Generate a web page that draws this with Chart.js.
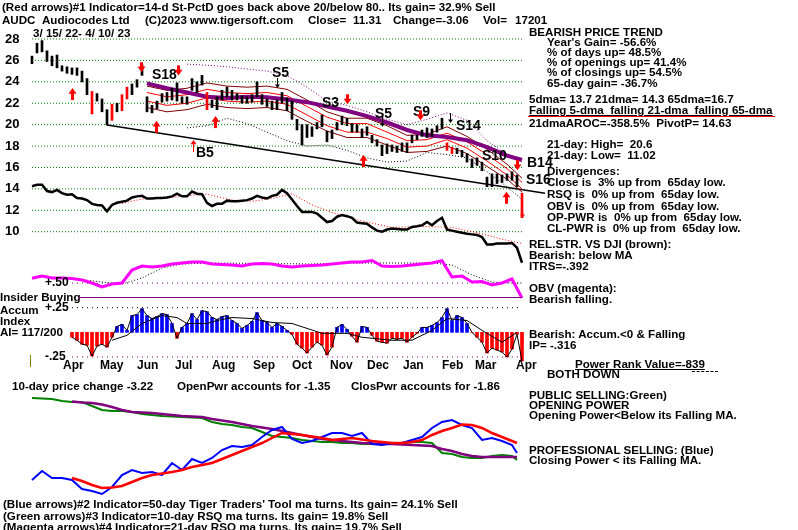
<!DOCTYPE html>
<html>
<head>
<meta charset="utf-8">
<title>AUDC Audiocodes - Tiger chart</title>
<style>
  body { margin: 0; background: #fff; }
  #wrap { position: relative; width: 798px; height: 530px; overflow: hidden; }
  #chart { position: absolute; left: 0; top: 0; }
  #notes { position: absolute; left: 0; top: 0; width: 798px; height: 530px; pointer-events: none; }
  .t { position: absolute; white-space: pre; font: bold 11.6px/12px "Liberation Sans", Arial, sans-serif; color: #000; }
  .u { text-decoration: underline; }
  .rule { position: absolute; height: 0; }
</style>
<script src="https://cdn.jsdelivr.net/npm/chart.js"></script>
</head>
<body>
<div id="wrap">
  <canvas id="chart" width="798" height="530"></canvas>
  <div id="notes"></div>
</div>
<script>
// samples, one every ~2.75 sessions from 3/15/22 to 4/10/23
const priceHigh = [26.4,27.6,27.85,26.9,26.4,26.5,25.5,25.4,25.3,25.3,
  25.0,24.3,23.1,22.9,22.4,21.4,21.9,22.0,22.8,23.5,
  23.8,24.2,25.6,22.6,21.8,22.2,22.9,23.0,23.4,23.9,
  22.6,22.6,24.3,24.0,24.6,23.0,22.3,22.6,23.2,23.5,
  23.2,22.9,22.7,22.6,22.8,24.0,22.8,22.4,22.2,22.3,
  23.0,22.5,22.2,20.5,20.0,20.0,19.8,20.2,20.9,19.4,
  19.5,20.2,20.8,20.6,20.1,20.0,19.6,19.8,19.0,18.6,
  18.1,18.2,18.1,18.0,18.3,18.3,19.0,19.0,19.5,19.7,
  19.6,19.9,20.6,18.3,17.9,17.8,17.6,17.3,16.8,16.9,
  16.5,15.1,15.4,15.4,15.3,15.4,15.6,15.3,13.6];
const priceLow = [25.7,26.7,26.8,25.9,25.5,25.3,25.0,24.8,24.7,24.6,
  24.0,22.8,21.0,22.2,21.2,19.96,20.4,21.2,21.3,22.4,
  22.8,23.5,24.6,21.2,21.1,21.5,22.1,22.2,22.3,22.2,
  22.0,21.9,23.2,23.0,23.7,21.4,21.6,21.4,22.3,22.6,
  22.3,22.3,22.0,22.0,22.1,22.6,21.9,21.7,21.4,21.4,
  22.0,21.3,20.5,19.5,18.1,18.8,18.9,19.6,19.8,18.4,
  18.7,19.5,20.0,19.9,19.3,19.3,18.8,19.0,18.3,18.0,
  17.1,17.3,17.5,17.4,17.5,17.4,18.3,18.6,18.9,18.8,
  18.9,19.3,19.6,17.6,17.3,17.3,17.0,16.5,16.0,16.2,
  15.7,14.2,14.2,14.5,14.6,14.8,14.8,14.2,11.31];
const redBars = [12, 16, 18, 19, 35, 83, 84, 98];

// relative strength vs DJI, read on the price grid
const relStr = [14.25,14.38,14.38,13.8,13.7,13.9,13.6,13.45,13.5,13.15,
  13.1,12.95,12.6,12.5,12.45,11.9,12.5,12.7,12.8,12.9,
  13.2,13.3,13.35,13.1,13.1,13.15,13.15,13.2,13.3,13.55,
  13.3,13.3,13.75,13.55,13.5,12.7,12.4,12.6,12.6,12.9,
  12.85,12.85,12.9,12.95,13.1,13.35,13.2,13.1,13.35,13.45,
  13.9,13.6,13.0,12.4,11.85,11.85,11.85,11.7,11.3,10.9,
  11.0,11.4,11.55,11.45,11.3,10.85,10.8,10.75,10.4,10.1,
  10.0,10.2,10.3,10.25,10.2,10.2,10.45,10.5,10.6,10.9,
  10.6,11.0,11.3,10.2,10.1,10.0,9.9,9.8,9.75,9.7,
  9.5,8.8,8.8,8.9,8.9,8.9,8.95,8.5,7.1];
const relStrMaDay = [18,22,28,32,35,40,44,48,52,56,60,66,72,78,84,90,94,98];
const relStrMa = [12.65,13.05,13.2,13.4,13.5,12.95,12.85,13.1,13.55,12.5,11.8,11.0,10.4,10.5,10.4,9.8,9.3,8.9];

// 21-dma bands, 65-dma and envelopes
const bandDay = [23,27,31,35,39,43,47,51,55,59,63,67,71,75,79,83,87,91,95,98];
const ma65    = [23.86,23.4,23.0,22.6,22.5,22.6,22.55,22.35,22.1,21.7,21.3,20.8,20.2,19.5,19.0,18.85,18.55,17.9,17.1,16.7];
const brownUp = [23.6,23.2,23.4,23.9,23.6,23.5,23.6,23.3,22.3,21.2,20.6,20.6,19.9,19.0,19.1,19.8,18.9,17.7,16.3,15.0];
const redUp   = [23.0,22.6,22.8,23.3,23.0,22.9,23.0,22.7,21.7,20.7,20.1,20.1,19.3,18.5,18.6,19.2,18.4,17.2,15.9,14.6];
const redLo   = [22.2,21.8,22.0,22.5,22.2,22.1,22.2,21.9,20.9,19.9,19.3,19.3,18.7,17.9,18.0,18.6,17.8,16.6,15.3,14.0];
const brownLo = [21.6,21.2,21.4,21.9,21.6,21.5,21.6,21.3,20.3,19.4,18.8,18.8,18.1,17.4,17.5,18.0,17.3,16.1,14.9,13.7];
const envUp   = [null,null,25.65,25.55,25.4,25.2,25.0,24.6,23.5,22.2,21.8,21.2,20.5,20.0,20.5,21.1,20.4,18.5,17.2,16.5];
const envLo   = [null,null,19.7,19.9,20.6,20.1,19.3,18.5,18.0,18.1,17.6,16.9,16.5,16.6,17.4,17.2,16.9,15.6,14.2,13.0];
const trendDay = [15, 102.6];
const trendVal = [19.96, 13.6];

// OBV (chart units)
const obvDay = [0,2,4,6,8,10,12,14,16,18,20,22,24,26,28,30,32,34,36,38,40,42,44,46,48,
  50,52,54,56,58,60,62,64,66,68,70,72,74,76,78,80,82,84,86,88,90,92,94,96,98];
const obv = [21.7,24,22,22,21.5,20,17,13,16,17,30,34,33,34,36,37,38,38,36,35.5,35,34,36,36.5,36,
  34,33,34,34.5,35,36,37,38,38,39.5,34,33.5,34,35,36,37,39.3,23,24,18,18.5,15,17,21,2];
const obvMaDay = [8,14,18,22,26,30,36,46,56,66,72,80,84,88,92,96,98];
const obvMa = [21.5,18,16,22,32,36,37,36.5,36,37,37,37,35,25,18,17,17];

// accumulation index
const accum = [null,null,null,null,null,null,null,null,-0.05,-0.08,
  -0.12,-0.13,-0.24,-0.14,-0.12,-0.15,-0.05,0.06,0.08,0.02,
  0.17,0.18,0.24,0.17,0.14,0.16,0.19,0.18,0.09,-0.06,
  0.05,0.09,0.19,0.13,0.22,0.21,0.15,0.13,0.16,0.17,
  0.12,0.09,0.04,0.07,0.11,0.2,0.12,0.1,0.05,0.09,
  0.06,0.02,-0.02,-0.12,-0.16,-0.21,-0.15,-0.1,-0.13,-0.23,
  -0.15,0.05,0.08,0.03,-0.04,-0.1,0.06,0.05,-0.03,-0.09,
  -0.1,-0.11,-0.06,-0.07,-0.06,-0.1,-0.05,-0.01,0.05,0.05,
  0.07,0.1,0.15,0.24,0.12,0.17,0.15,0.09,0.0,-0.05,
  -0.1,-0.21,-0.16,-0.18,-0.2,-0.25,-0.17,-0.02,-0.29];
const accumMaDay = [16,19,22,26,29,31,35,37,40,44,48,52,58,63,66,72,76,80,83,87,90,94,97];
const accumMa = [-0.08,-0.03,0.09,0.17,0.15,0.09,0.09,0.12,0.15,0.14,0.1,0.09,-0.01,-0.01,-0.05,-0.08,-0.08,0.02,0.14,0.12,0.02,-0.1,0.0];

// opening / closing power (chart units)
const pwrDay = [0,2,4,6,8,10,12,14,16,18,20,22,24,26,28,30,32,34,36,38,40,42,44,46,48,
  50,52,54,56,58,60,62,64,66,68,70,72,74,76,78,80,82,84,86,88,90,92,94,96,97];
const openPwr = [102,101.5,101,99,98,98,94,90,89,89,88,86,85,84,83.5,83,82.5,82,78,76,75,73,72,68,64,
  63,62,60,59,58,58,57,57,56,56,56,57,57,58,58,57,47,46,43,42,42,44,45,44,40];
const openPwrMa = [null,null,null,null,98.5,97.5,97,95.5,93,90,88,87.5,87,86,85,84,83.5,83,81,79.5,78,76,74,72.5,71,
  69,67,65,63,61,60,59,58,57,56.5,56,56,55.5,55,54.5,54,51,49,46,44,43,43,43,43,43];
const closePwr = [20,29,22,22,20,11,9,6,13,25,30,27,28,25,37,30,41,37,42,50,54,53,55,63,70,
  73,61,57,59,63,67,67,64,67,56,55,57,57,60,63,72,78,80,75,72,60,62,59,55,47];
const closePwrMa = [null,null,null,null,22,19,15,12,12.5,14,18,22,25,26.5,28,30,33,35,37,41,45,49,53,57,62,
  67,66,65,63.5,62,60,61,62,60.5,59,58,57,57,58,60,65,69,72,75.5,75,72,67,63,59,57];

// axis labels and signals
const priceTicks = [28,26,24,22,20,18,16,14,12,10];
const accumTicks = [0.5, 0.25, -0.25];
const months = ['Apr','May','Jun','Jul','Aug','Sep','Oct','Nov','Dec','Jan','Feb','Mar','Apr'];
const monthDay = [6.2,13.6,21,28.6,36,44.2,52,59.6,67,74.2,82,88.6,96.8];
const signalText = ['S18','S5','S3','S5','S9','S14','S10','B5','B14','S16'];
const signalDay  = [24,48,58,68.6,76.2,84.8,90,32.8,99,98.8];
const signalAt   = [24.26,24.45,21.64,20.62,20.8,19.5,16.7,16.97,16.04,14.5];
const buyArrows  = [[8,23.42],[24.8,20.36],[36.6,20.8],[66.2,17.16],[94.8,13.73]];
const sellArrows = [[21.8,24.9],[29.2,24.6],[63,21.9],[77.6,20.4],[97,15.75]];
const lastSell   = [[98,11.27]];
const b5Arrow    = [[32.2,18.56]];
const labelArrows = [[49,23.42],[70,19.8],[83.6,20.15]];

const W = 798, H = 530;
const FONT = '"Liberation Sans", Arial, sans-serif';

// min/max so that value v1 lands on pixel p1 and v2 on p2 across [0, size]
function span(v1, p1, v2, p2, size) {
  const k = (v2 - v1) / (p2 - p1);
  const a = v1 - k * p1, b = v1 + k * (size - p1);
  return { min: Math.min(a, b), max: Math.max(a, b) };
}
function pts(xs, ys) { return xs.map((x, k) => ({ x: x, y: ys[k] })); }

const days = priceHigh.map((_, i) => i);
const lastDay = days[days.length - 1];

const xr = span(0, 32, lastDay, 522, W);
const pr = span(28, 39, 10, 231.7, H);
const ar = span(0.25, 307.7, -0.25, 357, H);
const orr = span(0, 300, 40, 260, H);
const wr = span(0, 500, 100, 400, H);

function line(data, yAxisID, color, width, dash) {
  return { type: 'line', data: data, yAxisID: yAxisID, borderColor: color, borderWidth: width,
    borderDash: dash || [], pointRadius: 0, fill: false, tension: 0, spanGaps: false };
}

const datasets = [
  { type: 'bar', yAxisID: 'yP', data: days.map(i => ({ x: i, y: [priceLow[i], priceHigh[i]] })),
    backgroundColor: c => redBars.includes(c.dataIndex) ? '#ff0000' : '#000000',
    barThickness: 2, grouped: false, borderWidth: 0, borderSkipped: false },
  line(pts(bandDay, ma65), 'yP', '#800080', 4),
  line(pts(bandDay, brownUp), 'yP', '#800000', 1),
  line(pts(bandDay, redUp), 'yP', '#ff0000', 1),
  line(pts(bandDay, redLo), 'yP', '#ff0000', 1),
  line(pts(bandDay, brownLo), 'yP', '#800000', 1),
  line(pts(bandDay, envUp), 'yP', '#800080', 1, [1, 2]),
  line(pts(bandDay, envLo), 'yP', '#000000', 1, [1, 2]),
  line(pts(trendDay, trendVal), 'yP', '#000000', 1.5),
  line(pts(days, relStr), 'yP', '#000000', 2.5),
  line(pts(relStrMaDay, relStrMa), 'yP', '#ff0000', 1, [1, 2]),
  line(pts(obvDay, obv), 'yO', '#ff00ff', 3),
  line(pts(obvMaDay, obvMa), 'yO', '#000000', 1, [1, 2]),
  line(pts(days, accum), 'yA', '#000000', 1),
  line(pts(accumMaDay, accumMa), 'yA', '#000000', 1),
  { type: 'bar', yAxisID: 'yA', data: pts(days, accum),
    backgroundColor: c => (c.raw && c.raw.y > 0) ? '#0000ff' : '#ff0000',
    barThickness: 3, grouped: false, borderWidth: 0 },
  line(pts(pwrDay, closePwrMa), 'yW', '#ff0000', 2.5),
  line(pts(pwrDay, closePwr), 'yW', '#0000ff', 2),
  line(pts(pwrDay, openPwrMa), 'yW', '#800080', 2.5),
  line(pts(pwrDay, openPwr), 'yW', '#008000', 2)
];
priceTicks.forEach(t => datasets.push(line([{ x: 0, y: t }, { x: lastDay, y: t }], 'yP', '#008000', 1, [1, 2])));
accumTicks.forEach(t => datasets.push(line([{ x: 8, y: t }, { x: lastDay, y: t }], 'yA', t === 0.25 ? '#000000' : '#800080', 1, [1, 4])));

function arrow(ctx, x, tip, dir, len, shaft, head, color) {
  const s = dir === 'up' ? 1 : -1;
  const hl = head * 0.7;
  ctx.fillStyle = color;
  ctx.fillRect(Math.round(x - shaft / 2), dir === 'up' ? tip + hl - 1 : tip - len, shaft, len - hl + 1);
  ctx.beginPath();
  ctx.moveTo(x, tip);
  ctx.lineTo(x - head / 2, tip + s * hl);
  ctx.lineTo(x + head / 2, tip + s * hl);
  ctx.closePath();
  ctx.fill();
}

const overlay = {
  id: 'overlay',
  afterDatasetsDraw(chart) {
    const ctx = chart.ctx, x = chart.scales.x, y = chart.scales.yP, a = chart.scales.yA;
    ctx.save();
    ctx.fillStyle = '#000';
    // value labels of the price and accumulation scales
    ctx.textBaseline = 'middle';
    ctx.font = 'bold 13px ' + FONT;
    priceTicks.forEach(t => ctx.fillText(String(t), 5, y.getPixelForValue(t)));
    ctx.font = 'bold 12px ' + FONT;
    accumTicks.forEach(t => ctx.fillText((t > 0 ? '+' : '-') + Math.abs(t).toFixed(2).slice(1), 45, a.getPixelForValue(t)));
    // months along the time axis
    ctx.textBaseline = 'alphabetic';
    months.forEach((m, k) => ctx.fillText(m, x.getPixelForValue(monthDay[k]), 369));
    ctx.font = 'bold 14px ' + FONT;
    signalText.forEach((s, k) => ctx.fillText(s, x.getPixelForValue(signalDay[k]), y.getPixelForValue(signalAt[k])));
    const px = d => Math.round(x.getPixelForValue(d)) + 0.5;
    buyArrows.forEach(p => arrow(ctx, px(p[0]), y.getPixelForValue(p[1]), 'up', 12, 3, 8, '#ff0000'));
    sellArrows.forEach(p => arrow(ctx, px(p[0]), y.getPixelForValue(p[1]), 'down', 10, 3, 8, '#ff0000'));
    lastSell.forEach(p => arrow(ctx, px(p[0]), y.getPixelForValue(p[1]), 'down', 8, 1, 5, '#ff0000'));
    b5Arrow.forEach(p => arrow(ctx, px(p[0]), y.getPixelForValue(p[1]), 'up', 12, 1, 6, '#ff0000'));
    labelArrows.forEach(p => arrow(ctx, px(p[0]), y.getPixelForValue(p[1]), 'down', 10, 1, 5, '#000000'));
    ctx.restore();
  }
};

new Chart(document.getElementById('chart'), {
  type: 'line',
  data: { datasets: datasets },
  options: {
    responsive: false, animation: false, devicePixelRatio: 1, events: [],
    layout: { padding: 0, autoPadding: false },
    plugins: { legend: { display: false }, tooltip: { enabled: false } },
    scales: {
      x: { type: 'linear', min: xr.min, max: xr.max, bounds: 'data', offset: false, display: false },
      yP: { type: 'linear', min: pr.min, max: pr.max, bounds: 'data', display: false },
      yA: { type: 'linear', min: ar.min, max: ar.max, bounds: 'data', display: false },
      yO: { type: 'linear', min: orr.min, max: orr.max, bounds: 'data', display: false },
      yW: { type: 'linear', min: wr.min, max: wr.max, bounds: 'data', display: false }
    }
  },
  plugins: [overlay]
});

// text blocks: [left, cap top, text, class]
const notes = [
  [2, 3, '(Red arrows)#1 Indicator=14-d St-PctD goes back above 20/below 80.. Its gain= 32.9% Sell'],
  [2, 16, 'AUDC'], [42, 16, 'Audiocodes Ltd'], [145, 16, '(C)2023 www.tigersoft.com'],
  [308, 16, 'Close='], [353, 16, '11.31'], [393, 16, 'Change=-3.06'], [483, 16, 'Vol='], [515, 16, '17201'],
  [33, 29, '3/ 15/ 22- 4/ 10/ 23'],
  [529, 28, 'BEARISH PRICE TREND'],
  [547, 38, "Year's Gain= -56.6%"],
  [547, 48, '% of days up= 48.5%'],
  [547, 57.5, '% of openings up= 41.4%'],
  [547, 68, '% of closings up= 54.5%'],
  [547, 78.5, '65-day gain= -36.7%'],
  [529, 95, '5dma= 13.7 21dma= 14.3 65dma=16.7'],
  [529, 106, 'Falling 5-dma  falling 21-dma  falling 65-dma', 'u'],
  [529, 119, '21dmaAROC=-358.5%  PivotP= 14.63'],
  [547, 140, '21-day: High=  20.6'],
  [547, 151, '21-day: Low=  11.02'],
  [547, 167, 'Divergences:'],
  [547, 178, 'Close is  3% up from  65day low.'],
  [547, 190, 'RSQ is  0% up from  65day low.'],
  [547, 201.5, 'OBV is  0% up from  65day low.'],
  [547, 212.5, 'OP-PWR is  0% up from  65day low.'],
  [547, 223.5, 'CL-PWR is  0% up from  65day low.'],
  [529, 240, 'REL.STR. VS DJI (brown):'],
  [529, 251, 'Bearish: below MA'],
  [529, 262, 'ITRS=-.392'],
  [529, 284, 'OBV (magenta):'],
  [529, 295, 'Bearish falling.'],
  [529, 330, 'Bearish: Accum.<0 & Falling'],
  [529, 341, 'IP= -.316'],
  [575, 360, 'Power Rank Value=-839', 'u'],
  [547, 370, 'BOTH DOWN'],
  [529, 391, 'PUBLIC SELLING:Green)'],
  [529, 401, 'OPENING POWER'],
  [529, 411, 'Opening Power<Below its Falling MA.'],
  [529, 446, 'PROFESSIONAL SELLING: (Blue)'],
  [529, 456, 'Closing Power < its Falling MA.'],
  [0, 293, 'Insider Buying'],
  [0, 306, 'Accum'],
  [0, 317, 'Index'],
  [0, 328, 'AI= 117/200'],
  [12, 382, '10-day price change -3.22'],
  [177, 382, 'OpenPwr accounts for -1.35'],
  [351, 382, 'ClosPwr accounts for -1.86'],
  [3, 500, "(Blue arrows)#2 Indicator=50-day Tiger Traders' Tool ma turns. Its gain= 24.1% Sell"],
  [3, 511.5, '(Green arrows)#3 Indicator=10-day RSQ ma turns. Its gain= 19.8% Sell'],
  [3, 522.5, '(Magenta arrows)#4 Indicator=21-day RSQ ma turns. Its gain= 19.7% Sell']
];
// decorative rules: [x1, x2, y, css border]
const rules = [
  [528, 775, 115.5, '1px solid #ff0000'],
  [692, 718, 371, '1px dashed #000'],
  [78, 522, 297, '1px solid #800080']
];
const box = document.getElementById('notes');
notes.forEach(n => {
  const d = document.createElement('div');
  d.className = 't' + (n[3] ? ' ' + n[3] : '');
  d.style.left = n[0] + 'px';
  d.style.top = (n[1] - 2) + 'px';
  d.textContent = n[2];
  box.appendChild(d);
});
rules.forEach(r => {
  const d = document.createElement('div');
  d.className = 'rule';
  d.style.left = r[0] + 'px';
  d.style.width = (r[1] - r[0]) + 'px';
  d.style.top = r[2] + 'px';
  d.style.borderTop = r[3];
  box.appendChild(d);
});
const tick = document.createElement('div');
tick.className = 'rule';
tick.style.cssText += 'left:30px;top:355px;height:12px;border-left:1px solid #808000;';
box.appendChild(tick);
</script>
</body>
</html>
